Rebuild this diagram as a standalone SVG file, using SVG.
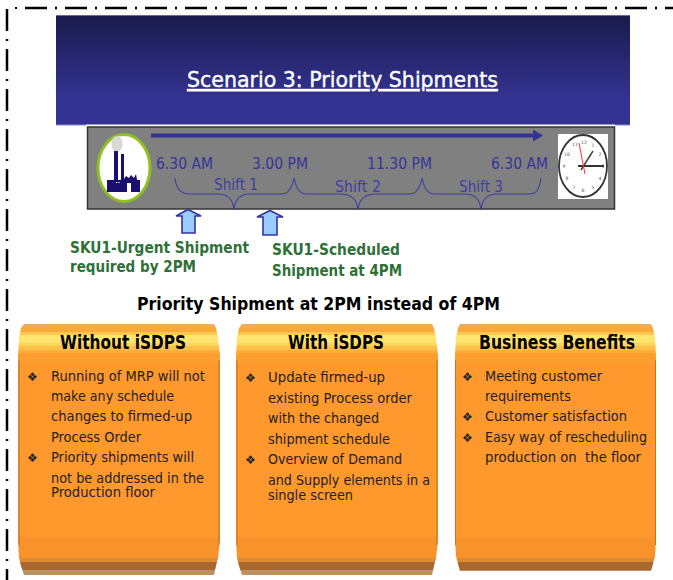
<svg xmlns="http://www.w3.org/2000/svg" width="673" height="580" viewBox="0 0 673 580">
<defs>
<linearGradient id="hdr" x1="0" y1="0" x2="0" y2="1"><stop offset="0" stop-color="#1a1a4c"/><stop offset="0.75" stop-color="#333391"/><stop offset="1" stop-color="#333391"/></linearGradient>
<linearGradient id="band" gradientUnits="userSpaceOnUse" x1="0" y1="324" x2="0" y2="575">
<stop offset="0" stop-color="#f0ac5c"/><stop offset="0.012" stop-color="#f0ac5c"/>
<stop offset="0.012" stop-color="#fba93a"/><stop offset="0.032" stop-color="#fba93a"/>
<stop offset="0.032" stop-color="#fdc850"/><stop offset="0.044" stop-color="#fdc850"/>
<stop offset="0.044" stop-color="#ffe46e"/><stop offset="0.076" stop-color="#ffe46e"/>
<stop offset="0.076" stop-color="#fdd55a"/><stop offset="0.088" stop-color="#fdd55a"/>
<stop offset="0.088" stop-color="#fcc048"/><stop offset="0.104" stop-color="#fcc048"/>
<stop offset="0.104" stop-color="#fbae3c"/><stop offset="0.116" stop-color="#fbae3c"/>
<stop offset="0.116" stop-color="#fc9f30"/><stop offset="0.156" stop-color="#fc9f30"/>
<stop offset="0.156" stop-color="#ff982d"/><stop offset="0.85" stop-color="#ff982d"/>
<stop offset="0.85" stop-color="#f8932b"/><stop offset="0.932" stop-color="#f8932b"/>
<stop offset="0.932" stop-color="#dd8a35"/><stop offset="0.948" stop-color="#dd8a35"/>
<stop offset="0.948" stop-color="#a7672f"/><stop offset="0.98" stop-color="#a7672f"/>
<stop offset="0.98" stop-color="#bc9164"/><stop offset="1" stop-color="#bc9164"/>
</linearGradient>
<marker id="head" markerUnits="userSpaceOnUse" markerWidth="10" markerHeight="12" refX="0" refY="6" orient="auto"><path d="M0 0L10 6L0 12Z" fill="#333391"/></marker>
</defs>
<style>
text{font-family:"DejaVu Sans","Liberation Sans",sans-serif;white-space:pre}
.bd{fill:none;stroke:#000;stroke-width:2.500;stroke-dasharray:22 8 2 8}
.time{font-size:15.5px;fill:#35359b}
.shift{font-size:15.5px;fill:#3f3fa0}
.brace{fill:none;stroke:#3f3f9c;stroke-width:1.1}
.up{fill:#99ccff;stroke:#3333a0;stroke-width:1.6}
.sku{font-size:16px;font-weight:bold;fill:#2f7038}
.h{font-size:19px;font-weight:bold;fill:#000}
.b{font-size:13.5px;fill:#222}
.bul{font-size:12px;fill:#222}
.card{fill:url(#band)}
.side{fill:#a9691f;opacity:.75}
.n{font-size:4.6px;fill:#555;text-anchor:middle}
</style>
<g id="border"><path class="bd" d="M25 8H673"/><path class="bd" d="M7 9V580"/><rect x="15" y="7" width="2" height="2"/></g>
<g id="header"><rect x="56" y="15" width="574" height="110" fill="url(#hdr)"/><rect x="56" y="15" width="574" height="1" fill="#6a6a9c"/><rect x="56" y="124.500" width="30" height="1" fill="#8a8ac8"/><rect x="86" y="124.500" width="529" height="1" fill="#fff"/><rect x="615" y="124.500" width="15" height="1" fill="#8a8ac8"/>
<text x="187" y="87" font-size="22" fill="#fff" stroke="#fff" stroke-width="0.4" text-decoration="underline" textLength="311" lengthAdjust="spacingAndGlyphs">Scenario 3: Priority Shipments</text></g>
<g id="timeline"><rect x="87.500" y="127" width="527" height="82" fill="#808080" stroke="#333" stroke-width="1.500"/>
<text class="time" x="156" y="169" textLength="57" lengthAdjust="spacingAndGlyphs">6.30 AM</text>
<text class="time" x="252" y="169" textLength="56" lengthAdjust="spacingAndGlyphs">3.00 PM</text>
<text class="time" x="367" y="169" textLength="65" lengthAdjust="spacingAndGlyphs">11.30 PM</text>
<text class="time" x="491" y="169" textLength="57" lengthAdjust="spacingAndGlyphs">6.30 AM</text>
<text class="shift" x="214" y="190" textLength="44" lengthAdjust="spacingAndGlyphs">Shift 1</text>
<text class="shift" x="335" y="192" textLength="46" lengthAdjust="spacingAndGlyphs">Shift 2</text>
<text class="shift" x="459" y="192" textLength="44" lengthAdjust="spacingAndGlyphs">Shift 3</text></g>
<g id="factory"><ellipse cx="124" cy="168" rx="26" ry="33.500" fill="#fff" stroke="#8fbf20" stroke-width="3"/>
<ellipse cx="117" cy="144" rx="5.500" ry="8" fill="#d8d8d8"/>
<path d="M114 151H118V180H121V154H124V179L126 176L129 178L131 175L134 178L136 174L137 180H140V192H131V183H127V192H107V180H114Z" fill="#1a0f6e"/><path d="M116 182.500H120" stroke="#fff" stroke-width="1" stroke-dasharray="1 .7" fill="none"/></g>
<g id="clock"><rect x="558" y="134" width="50" height="65" fill="#fff"/><ellipse cx="583" cy="166" rx="24" ry="31" fill="#fff" stroke="#333" stroke-width="1.800"/>
<text class="n" x="584" y="144">12</text><text class="n" x="593" y="147">1</text><text class="n" x="600" y="156">2</text><text class="n" x="603" y="168">3</text><text class="n" x="600" y="180">4</text><text class="n" x="593" y="189">5</text><text class="n" x="583" y="192">6</text><text class="n" x="574" y="189">7</text><text class="n" x="567" y="180">8</text><text class="n" x="564" y="168">9</text><text class="n" x="567" y="156">10</text><text class="n" x="575" y="146">11</text>
<path d="M578 166H604" stroke="#333" stroke-width="2" fill="none"/><path d="M581 170L593 151" stroke="#444" stroke-width="1.500" fill="none"/><path d="M579 143L585 174" stroke="#e33" stroke-width="1" fill="none"/></g>
<g id="connectors">
<path d="M151 135.500H533" stroke="#333391" stroke-width="4" fill="none" marker-end="url(#head)"/>
<path class="brace" d="M175 178C176 188 180 194 190 194H218C227 194 233 198 234 210C235 198 241 194 250 194H282C288 194 292 188 294 178C296 188 300 194 306 194H340C349 194 357 198 358 210C359 198 367 194 376 194H410C416 194 420 188 422 178C424 188 428 194 434 194H465C474 194 480 198 481 210C482 198 488 194 497 194H530C536 194 540 188 541 178"/>
<path class="up" d="M188 209.500L201 216H195V233H182V216H176Z"/>
<path class="up" d="M270 210.500L283 217H277V235H263V217H257Z"/>
</g>
<g id="sku-urgent"><text class="sku" x="70" y="253" textLength="179" lengthAdjust="spacingAndGlyphs">SKU1-Urgent Shipment</text><text class="sku" x="70" y="272" textLength="126" lengthAdjust="spacingAndGlyphs">required by 2PM</text></g>
<g id="sku-scheduled"><text class="sku" x="272" y="255" textLength="128" lengthAdjust="spacingAndGlyphs">SKU1-Scheduled</text><text class="sku" x="272" y="276" textLength="130" lengthAdjust="spacingAndGlyphs">Shipment at 4PM</text></g>
<text id="subtitle" x="137" y="310" font-size="18" font-weight="bold" fill="#000" textLength="363" lengthAdjust="spacingAndGlyphs">Priority Shipment at 2PM instead of 4PM</text>
<g id="card-without">
<path class="card" d="M24 324H214L216 328L218 338L220 355V540L218 558L216 566L214 575H24L21 566L19 558L18 540V355L19 338L21 328Z"/>
<rect class="side" x="18.500" y="360" width="1" height="185"/><rect class="side" x="218.500" y="360" width="1" height="185"/>
<text class="h" x="60" y="349" textLength="126" lengthAdjust="spacingAndGlyphs">Without iSDPS</text>
<text class="bul" x="27" y="381">❖</text><text class="b" x="51" y="381" textLength="154" lengthAdjust="spacingAndGlyphs">Running of MRP will not</text>
<text class="b" x="51" y="401" textLength="123" lengthAdjust="spacingAndGlyphs">make any schedule</text>
<text class="b" x="51" y="421" textLength="141" lengthAdjust="spacingAndGlyphs">changes to firmed-up</text>
<text class="b" x="51" y="442" textLength="90" lengthAdjust="spacingAndGlyphs">Process Order</text>
<text class="bul" x="27" y="462">❖</text><text class="b" x="51" y="462" textLength="143" lengthAdjust="spacingAndGlyphs">Priority shipments will</text>
<text class="b" x="51" y="483" textLength="153" lengthAdjust="spacingAndGlyphs">not be addressed in the</text>
<text class="b" x="51" y="497" textLength="104" lengthAdjust="spacingAndGlyphs">Production floor</text>
</g>
<g id="card-with">
<path class="card" d="M242 324H432L434 328L436 338L438 355V540L436 558L434 566L432 575H242L239 566L237 558L236 540V355L237 338L239 328Z"/>
<rect class="side" x="236.500" y="360" width="1" height="185"/><rect class="side" x="436.500" y="360" width="1" height="185"/>
<text class="h" x="288" y="349" textLength="96" lengthAdjust="spacingAndGlyphs">With iSDPS</text>
<text class="bul" x="245" y="382">❖</text><text class="b" x="268" y="382" textLength="117" lengthAdjust="spacingAndGlyphs">Update firmed-up</text>
<text class="b" x="268" y="403" textLength="144" lengthAdjust="spacingAndGlyphs">existing Process order</text>
<text class="b" x="268" y="423" textLength="111" lengthAdjust="spacingAndGlyphs">with the changed</text>
<text class="b" x="268" y="444" textLength="122" lengthAdjust="spacingAndGlyphs">shipment schedule</text>
<text class="bul" x="245" y="464">❖</text><text class="b" x="268" y="464" textLength="134" lengthAdjust="spacingAndGlyphs">Overview of Demand</text>
<text class="b" x="268" y="485" textLength="162" lengthAdjust="spacingAndGlyphs">and Supply elements in a</text>
<text class="b" x="268" y="500" textLength="85" lengthAdjust="spacingAndGlyphs">single screen</text>
</g>
<g id="card-benefits">
<path class="card" d="M460 324H651L653 328L655 338L656 355V540L655 556L653 564L651 571H460L458 564L456 556L455 540V355L456 338L458 328Z"/>
<rect class="side" x="455" y="360" width="1" height="185"/><rect class="side" x="655" y="360" width="1" height="185"/>
<text class="h" x="479" y="349" textLength="156" lengthAdjust="spacingAndGlyphs">Business Benefits</text>
<text class="bul" x="462" y="381">❖</text><text class="b" x="485" y="381" textLength="117" lengthAdjust="spacingAndGlyphs">Meeting customer</text>
<text class="b" x="485" y="401" textLength="86" lengthAdjust="spacingAndGlyphs">requirements</text>
<text class="bul" x="462" y="421">❖</text><text class="b" x="485" y="421" textLength="142" lengthAdjust="spacingAndGlyphs">Customer satisfaction</text>
<text class="bul" x="462" y="442">❖</text><text class="b" x="485" y="442" textLength="162" lengthAdjust="spacingAndGlyphs">Easy way of rescheduling</text>
<text class="b" x="485" y="462" textLength="156" lengthAdjust="spacingAndGlyphs">production on  the floor</text>
</g>
</svg>
